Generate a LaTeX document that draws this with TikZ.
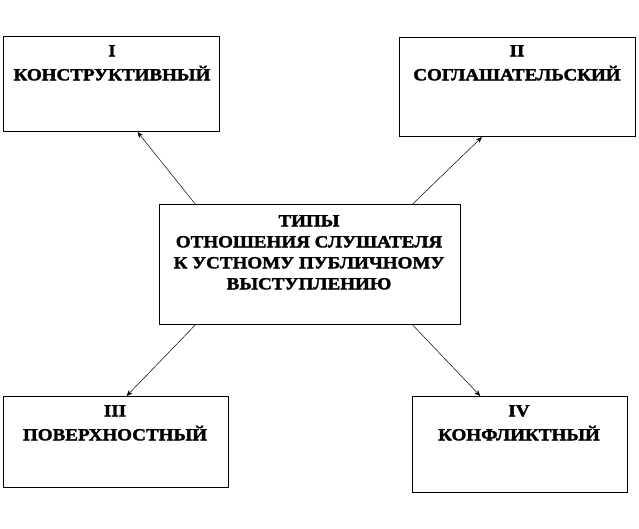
\documentclass[tikz,border=0pt]{standalone}
\usepackage{fontspec}
\setmainfont{Liberation Serif}[FakeStretch=1.12,BoldFeatures={FakeBold=2}]
\usetikzlibrary{calc,arrows.meta}
\begin{document}
\begin{tikzpicture}[x=1pt,y=-1pt,
  box/.style={draw,line width=1pt,inner sep=0pt,anchor=north west},
  lbl/.style={align=center,font=\bfseries\fontsize{17}{24}\selectfont,inner sep=0pt},
  clbl/.style={align=center,font=\bfseries\fontsize{17}{21}\selectfont,inner sep=0pt},
  arr/.style={line width=0.5pt,-{Stealth[length=6pt,width=5pt]}}]
\useasboundingbox (0,0) rectangle (639,528);
\node[box,minimum width=216pt,minimum height=95pt] (b1) at (3,36) {};
\node[box,minimum width=236pt,minimum height=99pt] (b2) at (399,37) {};
\node[box,minimum width=301pt,minimum height=120pt] (c) at (159,204) {};
\node[box,minimum width=225pt,minimum height=91pt] (b3) at (3,396) {};
\node[box,minimum width=215pt,minimum height=96pt] (b4) at (412,396) {};
\node[lbl,anchor=north] (t1) at (112,45) {I\\КОНСТРУКТИВНЫЙ};
\node[lbl,anchor=north] (t2) at (517,45) {II\\СОГЛАШАТЕЛЬСКИЙ};
\node[clbl,anchor=north] (tc) at (309,215) {ТИПЫ\\ОТНОШЕНИЯ СЛУШАТЕЛЯ\\К УСТНОМУ ПУБЛИЧНОМУ\\ВЫСТУПЛЕНИЮ};
\node[lbl,anchor=north] (t3) at (115,405) {III\\ПОВЕРХНОСТНЫЙ};
\node[lbl,anchor=north] (t4) at (519,405) {IV\\КОНФЛИКТНЫЙ};
\draw[arr] ($(c.north west)!0.12!(c.north east)$) -- ($(b1.south west)!0.62!(b1.south east)$);
\draw[arr] ($(c.north west)!0.84!(c.north east)$) -- ($(b2.south west)!0.35!(b2.south east)$);
\draw[arr] ($(c.south west)!0.12!(c.south east)$) -- ($(b3.north west)!0.547!(b3.north east)$);
\draw[arr] ($(c.south west)!0.84!(c.south east)$) -- ($(b4.north west)!0.316!(b4.north east)$);
\end{tikzpicture}
\end{document}
